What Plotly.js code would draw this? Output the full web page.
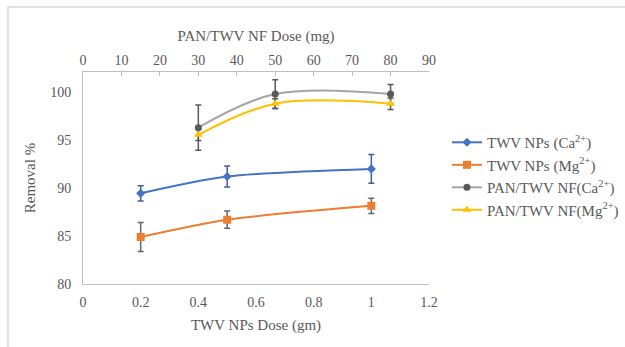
<!DOCTYPE html>
<html>
<head>
<meta charset="utf-8">
<script src="https://cdn.plot.ly/plotly-3.0.1.min.js"></script>
<style>html,body{margin:0;padding:0;background:#fff;}#chart{width:625px;height:347px;}</style>
</head>
<body>
<div id="chart"></div>
<script>
// TWV NPs dose (gm) - bottom axis
var npDose = [0.2, 0.5, 1.0];
var npCa = [89.45, 91.2, 92.0];
var npCaErr = [0.8, 1.1, 1.5];
var npMg = [84.9, 86.7, 88.15];
var npMgErr = [1.5, 0.9, 0.8];
// PAN/TWV NF dose (mg) - top axis
var nfDose = [30, 50, 80];
var nfCa = [96.3, 99.8, 99.8];
var nfCaErr = [2.35, 1.5, 1.0];
var nfMg = [95.55, 98.8, 98.8];
var nfMgErr = [0.6, 0.5, 0.6];

var serif = "Liberation Serif";
var txt = "#595959";

function errCfg(arr, color) {
  return {type: 'data', array: arr, visible: true, color: color, thickness: 1.5, width: 3};
}

var traces = [
  {x: npDose, y: npCa, name: 'TWV NPs (Ca<sup>2+</sup>)', mode: 'lines+markers', xaxis: 'x', yaxis: 'y',
   line: {color: '#4472C4', width: 2, shape: 'spline', smoothing: 0.8},
   marker: {symbol: 'diamond', size: 7, color: '#4472C4'},
   error_y: errCfg(npCaErr, '#3F5FA0')},
  {x: npDose, y: npMg, name: 'TWV NPs (Mg<sup>2+</sup>)', mode: 'lines+markers', xaxis: 'x', yaxis: 'y',
   line: {color: '#ED7D31', width: 2, shape: 'spline', smoothing: 0.8},
   marker: {symbol: 'square', size: 8, color: '#ED7D31'},
   error_y: errCfg(npMgErr, '#666666')},
  {x: nfDose, y: nfCa, name: 'PAN/TWV NF(Ca<sup>2+</sup>)', mode: 'lines+markers', xaxis: 'x2', yaxis: 'y',
   line: {color: '#A5A5A5', width: 2, shape: 'spline', smoothing: 1},
   marker: {symbol: 'circle', size: 7, color: '#595959'},
   error_y: errCfg(nfCaErr, '#595959')},
  {x: nfDose, y: nfMg, name: 'PAN/TWV NF(Mg<sup>2+</sup>)', mode: 'lines+markers', xaxis: 'x2', yaxis: 'y',
   line: {color: '#FFC000', width: 2, shape: 'spline', smoothing: 1},
   marker: {symbol: 'triangle-up', size: 8, color: '#FFC000'},
   error_y: errCfg(nfMgErr, '#595959')}
];

var layout = {
  width: 625, height: 347,
  margin: {l: 83, r: 196, t: 72, b: 63, autoexpand: false},
  paper_bgcolor: '#ffffff', plot_bgcolor: '#ffffff',
  font: {family: serif, color: txt, size: 14},
  showlegend: true,
  legend: {x: 1.052, y: 0.745, xanchor: 'left', yanchor: 'top', font: {family: serif, size: 15, color: txt}, bgcolor: 'rgba(0,0,0,0)'},
  xaxis: {range: [0, 1.2], dtick: 0.2, tick0: 0, showgrid: false, zeroline: false,
    showline: true, linecolor: '#BFBFBF', linewidth: 1, ticks: '', ticklabelstandoff: 5,
    tickfont: {family: serif, size: 14, color: txt},
    title: {text: 'TWV NPs Dose (gm)', font: {family: serif, size: 15, color: txt}, standoff: 10}},
  xaxis2: {range: [0, 90], dtick: 10, tick0: 0, overlaying: 'x', side: 'top', anchor: 'y', showgrid: false, zeroline: false,
    showline: true, linecolor: '#BFBFBF', linewidth: 1, ticks: 'inside', ticklen: 4, tickcolor: '#BFBFBF',
    tickfont: {family: serif, size: 14, color: txt},
    title: {text: 'PAN/TWV NF Dose (mg)', font: {family: serif, size: 15, color: txt}, standoff: 8}},
  yaxis: {range: [80, 102.1], tickvals: [80, 85, 90, 95, 100], showgrid: false, zeroline: false,
    showline: true, linecolor: '#BFBFBF', linewidth: 1, ticks: '', ticklabelstandoff: 8,
    tickfont: {family: serif, size: 14, color: txt},
    title: {text: 'Removal %', font: {family: serif, size: 15, color: txt}, standoff: 10}},
  shapes: [{type: 'rect', xref: 'paper', yref: 'paper', x0: -0.2168, x1: 2, y0: -1, y1: 1.3066,
    line: {color: '#D9D9D9', width: 1.5}, fillcolor: 'rgba(0,0,0,0)', layer: 'below'}]
};

Plotly.newPlot('chart', traces, layout, {displayModeBar: false, staticPlot: true});
</script>
</body>
</html>
